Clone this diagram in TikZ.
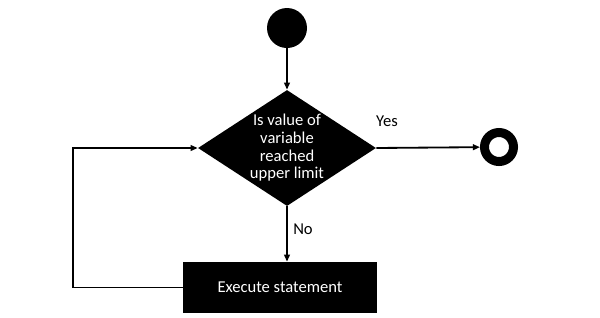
\documentclass[tikz,border=0pt]{standalone}
\usepackage{fontspec}
\setmainfont{Carlito}
\usetikzlibrary{shapes.geometric,arrows.meta,positioning}
\begin{document}
\begin{tikzpicture}[font=\fontsize{11.8}{12.6}\selectfont]
      \tikzset{flow line/.style={line width=1.3pt,-{Triangle[length=5pt,width=4pt]}},
               start node/.style={circle,fill=black,minimum size=1cm,inner sep=0pt},
               stop node/.style={circle,draw=black,fill=white,line width=0.225cm,minimum size=0.725cm,inner sep=0pt},
               decision node/.style={diamond,fill=black,text=white,align=center,inner sep=0pt,
                 minimum width=4.45cm,minimum height=2.9cm,aspect=1.534},
               block node/.style={rectangle,fill=black,text=white,minimum width=4.85cm,minimum height=1.275cm}}
      \useasboundingbox (0,0) rectangle (15,-7.925);

      % Start node
      \node[start node] (start) at (7.175, -0.7) {};

      % Decision diamond
      \node[decision node] (decision) at (7.175, -3.7) {Is value of\\variable\\reached\\upper limit};

      % Stop node on the right
      \node[stop node] (stop) at (12.475, -3.675) {};

      % Statement block below
      \node[block node] (exec) at (7.0, -7.1875) {Execute statement};

      % Loop corner on the left
      \coordinate (loopbot) at (1.825, -7.1875);
      \coordinate (looptop) at (1.825, -3.7);

      % Connectors
      \draw[flow line] (start) -- (decision);
      \draw[flow line] (decision.east) -- (stop);
      \draw[flow line] (decision.south) -- (decision.south |- exec.north);
      \draw[flow line] (exec.west) -- (loopbot) -- (looptop) -- (decision.west);

      % Branch labels
      \node (yes) at (9.675, -3.025) {Yes};
      \node (no) at (7.575, -5.725) {No};

    \end{tikzpicture}
\end{document}
